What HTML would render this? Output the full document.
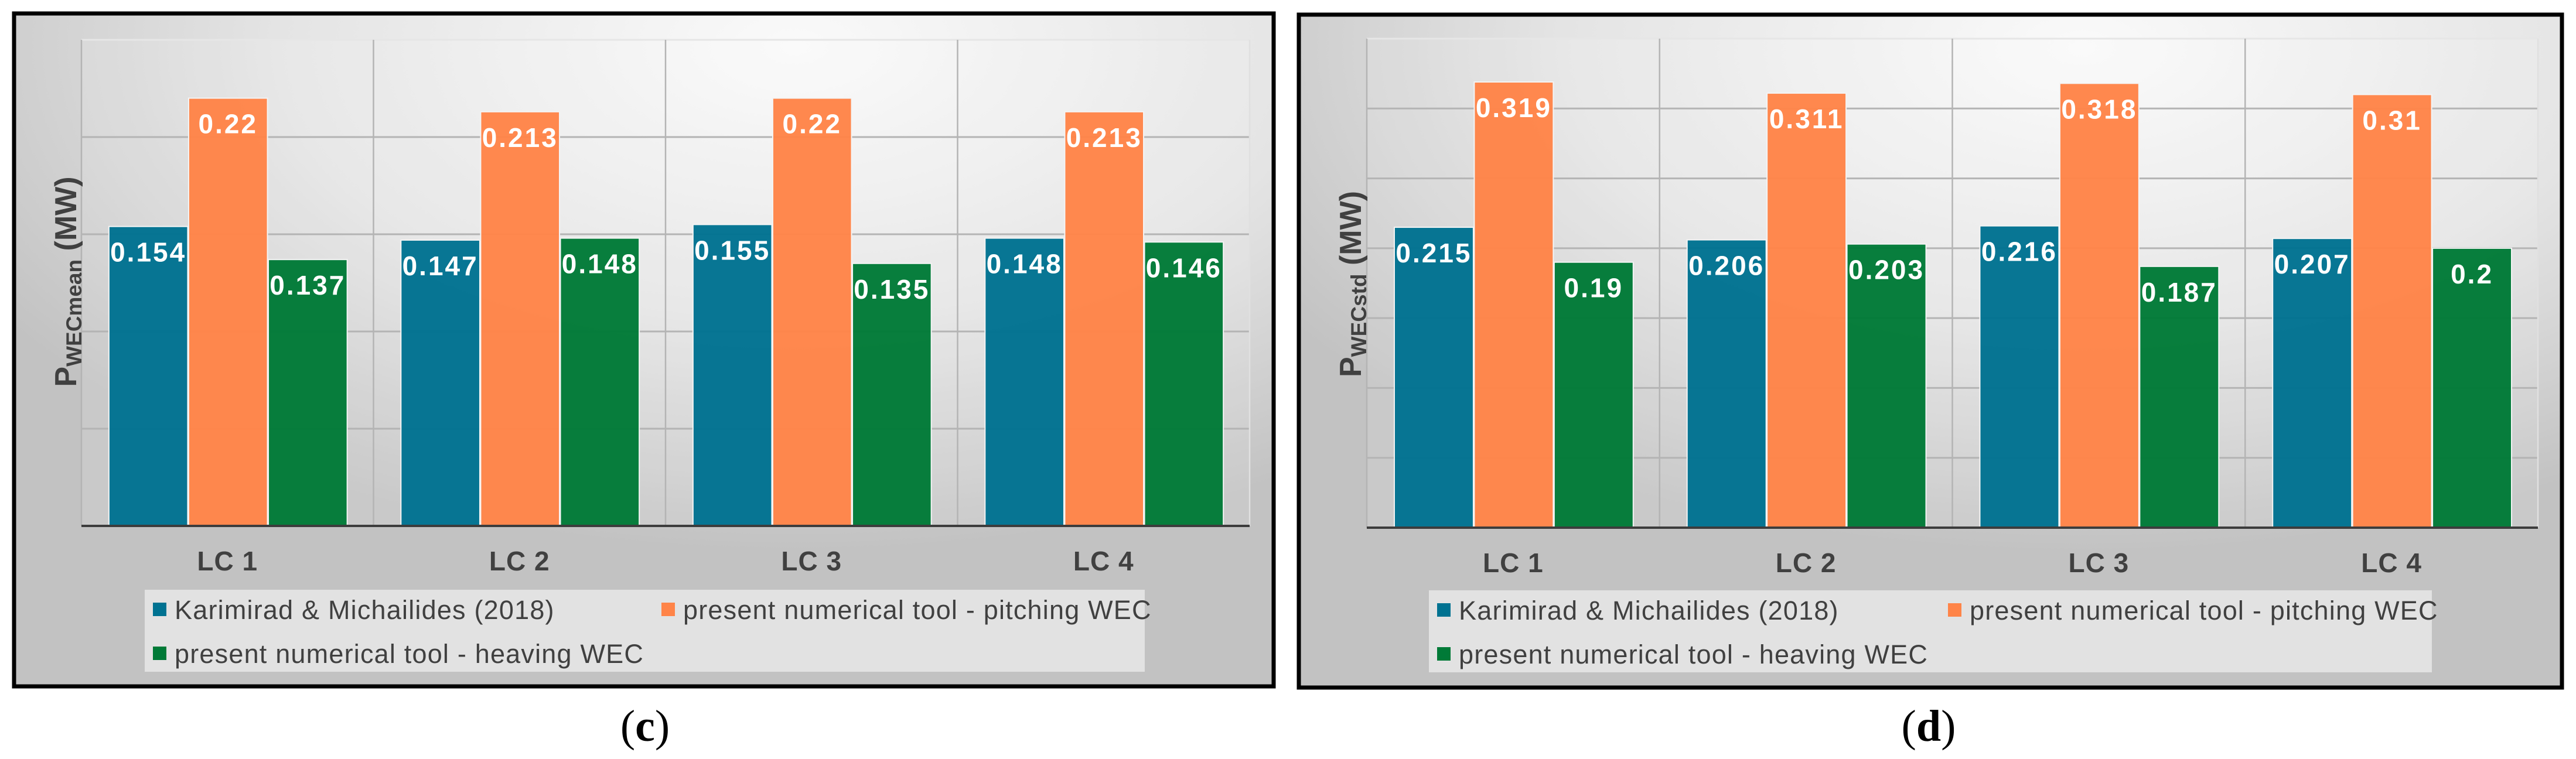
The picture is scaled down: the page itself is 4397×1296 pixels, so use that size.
<!DOCTYPE html>
<html><head><meta charset="utf-8">
<style>
html,body{margin:0;padding:0;background:#fff;}
svg{display:block;}
text{font-family:"Liberation Sans",Arial,sans-serif;}
</style></head>
<body>
<svg id="fig" width="4397" height="1296" viewBox="0 0 4397 1296" xmlns="http://www.w3.org/2000/svg">
<defs>
<radialGradient id="bg" cx="0.62" cy="0.05" r="0.75" fx="0.62" fy="0.05">
<stop offset="0" stop-color="#fafafa"/>
<stop offset="0.55" stop-color="#e4e4e4"/>
<stop offset="1" stop-color="#c2c2c2"/>
</radialGradient>
</defs>
<g id="panels"></g>
</svg>
<script>
const categories = ["LC 1","LC 2","LC 3","LC 4"];
const seriesNames = ["Karimirad & Michailides (2018)","present numerical tool - pitching WEC","present numerical tool - heaving WEC"];
const meanKarimirad = [0.154,0.147,0.155,0.148];
const meanPitching = [0.22,0.213,0.22,0.213];
const meanHeaving = [0.137,0.148,0.135,0.146];
const stdKarimirad = [0.215,0.206,0.216,0.207];
const stdPitching = [0.319,0.311,0.318,0.31];
const stdHeaving = [0.19,0.203,0.187,0.2];
const meanTicks = [0,0.05,0.1,0.15,0.2,0.25];
const stdTicks = [0,0.05,0.1,0.15,0.2,0.25,0.3,0.35];

const NS="http://www.w3.org/2000/svg";
const colors=["#007291","#ff8448","#007a37"];
function mk(tag,attrs,parent){const e=document.createElementNS(NS,tag);for(const k in attrs)e.setAttribute(k,attrs[k]);if(parent)parent.appendChild(e);return e;}

function panel(cfg){
  const root=document.getElementById('panels');
  const g=mk('g',{},root);
  
  
  const bg=mk('rect',{x:cfg.bx,y:cfg.by,width:cfg.bw,height:cfg.bh,fill:'url(#bg)',stroke:'#000','stroke-width':7},g);
  
  
  const tmax=cfg.ticks[cfg.ticks.length-1];
  const y=v=>cfg.base-(v/tmax)*(cfg.base-cfg.top);
  const cw=(cfg.right-cfg.left)/categories.length;
  const x=i=>cfg.left+i*cw;
  mk('rect',{x:cfg.left,y:cfg.top,width:cfg.right-cfg.left,height:cfg.base-cfg.top,fill:'#ffffff','fill-opacity':0.12},g);
  cfg.ticks.forEach((t,i)=>{ if(i===0)return;
    const l=mk('line',{x1:cfg.left,x2:cfg.right,y1:y(t),y2:y(t),stroke:i===cfg.ticks.length-1?'#e6e6e6':'#b4b4b4','stroke-width':3},g);
    
    
  });
  for(let i=0;i<=categories.length;i++){
    const l=mk('line',{x1:x(i),x2:x(i),y1:cfg.top,y2:cfg.base,stroke:i===categories.length?'#e0e0e0':'#b4b4b4','stroke-width':2.5},g);
    
    
  }
  const bw=cw*0.27, off=cw*0.094;
  categories.forEach((c,i)=>{
    cfg.series.forEach((arr,s)=>{
      const bx=x(i)+off+s*(bw+1.5), top=y(arr[i]);
      const r=mk('rect',{x:bx,y:top,width:bw,height:cfg.base-top,fill:colors[s],'fill-opacity':0.97,stroke:'#f4f4f4','stroke-width':2},g);
      
      
      const t=mk('text',{x:bx+bw/2,y:top+60,'text-anchor':'middle','font-size':46,'font-weight':'bold',fill:'#fff','letter-spacing':3},g);
      t.textContent=String(arr[i]);
      
      
    });
    const lt=mk('text',{x:x(i)+cw/2,y:cfg.base+76,'text-anchor':'middle','font-size':46,'font-weight':'bold',fill:'#404040','letter-spacing':1},g);
    lt.textContent=c;
    
    
  });
  const ax=mk('line',{x1:cfg.left,x2:cfg.right,y1:cfg.base,y2:cfg.base,stroke:'#3c3c3c','stroke-width':4},g);
  
  
  const yt=mk('text',{transform:`translate(${cfg.tx},${cfg.ty}) rotate(-90)`,'text-anchor':'middle','font-size':52,'font-weight':'bold',fill:'#404040'},g);
  
  
  const p=mk('tspan',{},yt);p.textContent='P';
  const sb=mk('tspan',{'font-size':37,dy:9},yt);sb.textContent=cfg.sub;
  const u=mk('tspan',{dy:-9},yt);u.textContent=' (MW)';
  const lg=mk('g',{},g);
  
  
  mk('rect',{x:cfg.lx,y:cfg.ly,width:cfg.lw,height:140,fill:'#ececec','fill-opacity':0.75},lg);
  const pos=[[cfg.lx+14,cfg.ly+34],[cfg.lx+14+cfg.col2,cfg.ly+34],[cfg.lx+14,cfg.ly+109]];
  seriesNames.forEach((n,s)=>{
    const e=mk('g',{},lg);
    
    
    mk('rect',{x:pos[s][0],y:pos[s][1]-12,width:23,height:23,fill:colors[s]},e);
    const t=mk('text',{x:pos[s][0]+37,y:pos[s][1]+16,'font-size':45,fill:'#404040','letter-spacing':1.2},e);
    t.textContent=n;
  });
  const cap=mk('text',{x:cfg.cx,y:1265,'text-anchor':'middle','font-size':76,fill:'#000',style:'font-family:"Liberation Serif",serif'},g);
  
  
  const a=mk('tspan',{},cap);a.textContent='(';
  const b=mk('tspan',{'font-weight':'bold'},cap);b.textContent=cfg.cap;
  const c2=mk('tspan',{},cap);c2.textContent=')';
}
panel({name:'panel-c-mean-power',key:'mean',bx:24,by:23,bw:2150,bh:1149,left:139,right:2133,top:68,base:898,ticks:meanTicks,
  series:[meanKarimirad,meanPitching,meanHeaving],sub:'WECmean',tx:130,ty:481,lx:247,ly:1007,lw:1707,col2:868,cx:1101,cap:'c'});
panel({name:'panel-d-std-power',key:'std',bx:2217,by:25,bw:2156,bh:1149,left:2333,right:4332,top:66,base:901,ticks:stdTicks,
  series:[stdKarimirad,stdPitching,stdHeaving],sub:'WECstd',tx:2323,ty:485,lx:2439,ly:1008,lw:1712,col2:872,cx:3292,cap:'d'});
</script>
</body></html>
